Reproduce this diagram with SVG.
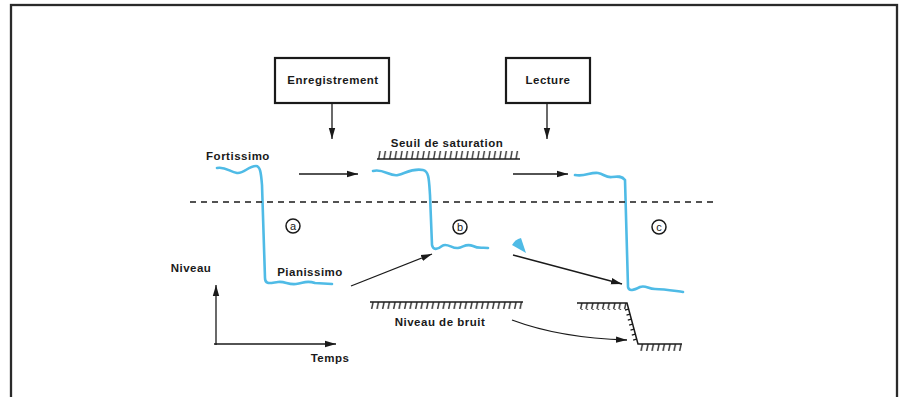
<svg xmlns="http://www.w3.org/2000/svg" width="901" height="397" viewBox="0 0 901 397">
<style>
.t{font-family:"Liberation Sans",Arial,sans-serif;font-weight:bold;font-size:11.5px;letter-spacing:0.5px;fill:#1a1a1a;text-anchor:middle}
.c{font-family:"Liberation Sans",Arial,sans-serif;font-size:11px;fill:#1a1a1a;text-anchor:middle}
.box{fill:#fff;stroke:#1a1a1a;stroke-width:2.2}
.ar{fill:none;stroke:#1a1a1a;stroke-width:1.3;marker-end:url(#ah)}
.sig{fill:none;stroke:#4fbbe6;stroke-width:2.6;stroke-linecap:round;stroke-linejoin:round}
.ln{stroke:#1a1a1a;stroke-width:1.5;fill:none}
.circ{fill:none;stroke:#1a1a1a;stroke-width:1.5}
</style>
<defs>
<marker id="ah" markerWidth="12" markerHeight="8" refX="11" refY="4" orient="auto" markerUnits="userSpaceOnUse">
<path d="M0,0.8 L11,4 L0,7.2 Z" fill="#1a1a1a"/>
</marker>
<pattern id="hUp" patternUnits="userSpaceOnUse" width="5.5" height="8" x="377" y="151">
<line x1="3" y1="0" x2="1.6" y2="8" stroke="#1a1a1a" stroke-width="1.3"/>
</pattern>
<pattern id="hDn" patternUnits="userSpaceOnUse" width="5.5" height="7" x="370" y="302">
<line x1="3" y1="0" x2="1.6" y2="7" stroke="#1a1a1a" stroke-width="1.3"/>
</pattern>
</defs>
<rect x="0" y="0" width="901" height="397" fill="#fff"/>
<rect x="11" y="5" width="886" height="400" fill="none" stroke="#2a2a2a" stroke-width="2.3"/>

<g id="enregistrement">
<rect class="box" x="275" y="58" width="114" height="45"/>
<text class="t" x="333" y="84">Enregistrement</text>
</g>
<g id="lecture">
<rect class="box" x="506" y="58" width="84" height="45"/>
<text class="t" x="548" y="84">Lecture</text>
</g>

<g id="seuil">
<text class="t" x="447" y="147">Seuil de saturation</text>
<rect x="377" y="151" width="143" height="8" fill="url(#hUp)"/>
<line class="ln" x1="377" y1="159" x2="520" y2="159"/>
</g>

<g id="bruit">
<line class="ln" x1="370" y1="302" x2="523" y2="302"/>
<rect x="370" y="302" width="153" height="7" fill="url(#hDn)"/>
<text class="t" x="440" y="326">Niveau de bruit</text>
</g>

<g id="bruit-c">
<path class="ln" d="M577 303 L627 303 L638 344 L682 344"/>
<rect x="577" y="303" width="50" height="7" fill="url(#hDn)"/>
<rect x="638" y="344" width="44" height="7" fill="url(#hDn)"/>
<path stroke="#1a1a1a" stroke-width="1.3" d="M628.5 309 l-3.5 1 M630 314 l-3.5 1 M631.3 319 l-3.5 1 M632.6 324 l-3.5 1 M634 329 l-3.5 1 M635.3 334 l-3.5 1 M636.6 339 l-3.5 1"/>
</g>

<g id="signal-a">
<path class="sig" d="M217 168 C225 166 230 172 237 173 C244 174 248 166 256 166 C260 166 261 172 262 185 L265 278 C265 285 270 283 278 282 C285 281 288 285 296 284 C304 283 306 280 315 283 L332 284"/>
<text class="t" x="238" y="160">Fortissimo</text>
<text class="t" x="310" y="276">Pianissimo</text>
<circle class="circ" cx="293" cy="226" r="7"/>
<text class="c" x="293" y="229.8">a</text>
</g>

<g id="signal-b">
<path class="sig" d="M373 171 C383 168 390 177 398 175 C406 173 412 168 423 170 C429 171 429 180 430 195 L432 245 C433 250 437 250 442 246 C447 242 452 249 458 248 C464 247 466 243 473 246 C479 249 482 247 488 248"/>
<circle class="circ" cx="460" cy="227" r="7"/>
<text class="c" x="460" y="231">b</text>
</g>

<g id="signal-c">
<path class="sig" d="M575 175 C585 177 590 172 598 173 C604 174 606 178 612 177 C618 176 622 176 625 180 L628 287 C629 292 634 290 640 287 C646 285 648 289 655 289 C665 289 675 291 683 292"/>
<circle class="circ" cx="659" cy="227" r="7"/>
<text class="c" x="659" y="230.8">c</text>
</g>

<g id="wedge">
<path d="M526 253 L512 245 A14 14 0 0 1 521 238 Z" fill="#4fbbe6"/>
</g>

<g id="axes">
<text class="t" x="191" y="272">Niveau</text>
<text class="t" x="330" y="362">Temps</text>
</g>

<g id="connectors">
<line class="ar" x1="332" y1="103" x2="332" y2="139"/>
<line class="ar" x1="547" y1="103" x2="547" y2="139"/>
<line class="ar" x1="299" y1="174" x2="358" y2="174"/>
<line class="ar" x1="513" y1="174" x2="568" y2="174"/>
<line class="ar" x1="351" y1="286" x2="432" y2="254"/>
<line class="ar" x1="513" y1="255" x2="622" y2="284"/>
<path class="ar" d="M512 320 Q560 338 627 340"/>
<line class="ar" x1="216" y1="345" x2="216" y2="285"/>
<line class="ar" x1="214" y1="344" x2="336" y2="344"/>
</g>

<line x1="190" y1="202" x2="716" y2="202" stroke="#1a1a1a" stroke-width="1.3" stroke-dasharray="6 5"/>
</svg>
